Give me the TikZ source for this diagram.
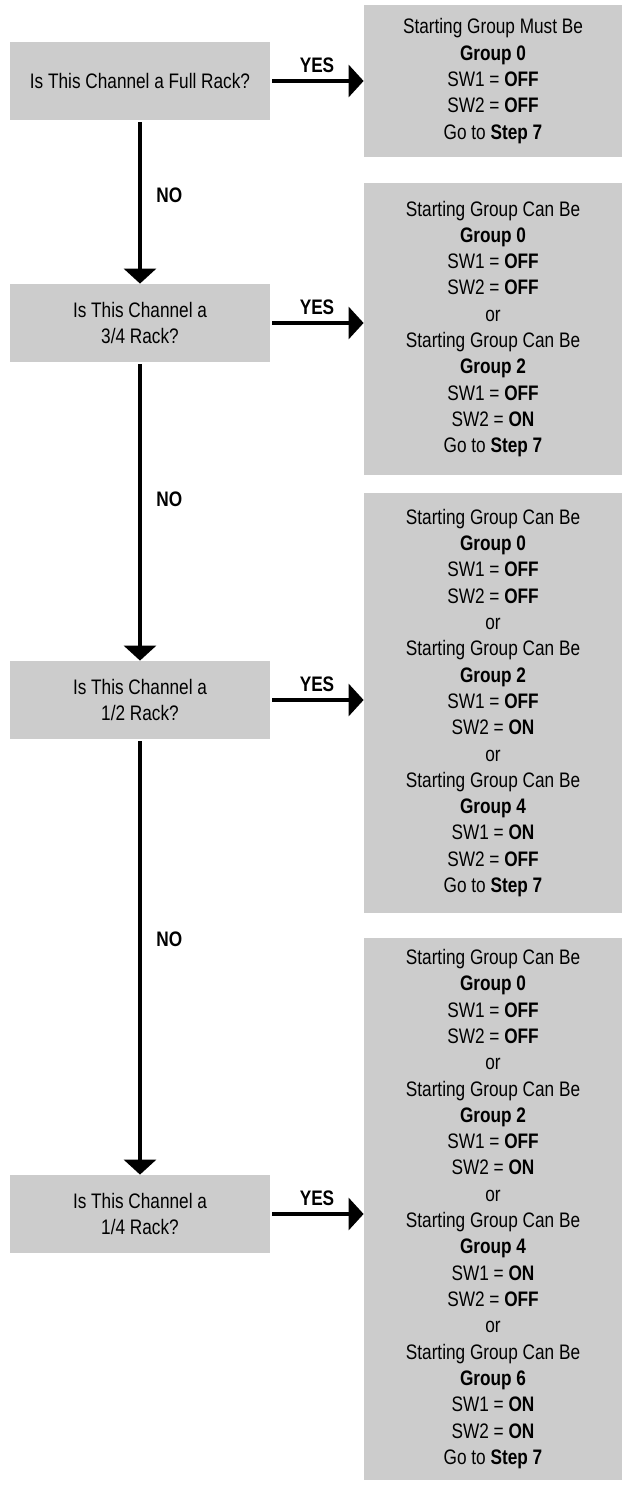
\documentclass[tikz,border=0pt]{standalone}
\usepackage{fontspec}
\setmainfont[FakeStretch=0.82]{Liberation Sans}
\usetikzlibrary{arrows.meta}

\begin{document}
\begin{tikzpicture}[x=0.5pt, y=-0.5pt,
        every node/.style={font=\fontsize{10.5}{13.15}\selectfont},
        question/.style={fill=black!20, minimum width=130pt, minimum height=39pt, align=center, inner sep=0pt},
        answer/.style={fill=black!20, minimum width=129pt, align=center, inner sep=0pt},
        lbl/.style={font=\fontsize{10.5}{13.15}\selectfont\bfseries},
        arr/.style={line width=1.65pt, -{Triangle[length=7.5pt, width=16pt]}, shorten <=1pt}]
            \useasboundingbox (0,0) rectangle (625,1486);

            \node[question] (q1) at (140,81) {Is This Channel a Full Rack?};
            \node[question] (q2) at (140,323) {Is This Channel a\\3/4 Rack?};
            \node[question] (q3) at (140,700) {Is This Channel a\\1/2 Rack?};
            \node[question] (q4) at (140,1214) {Is This Channel a\\1/4 Rack?};

            \node[answer, minimum height=76pt] (a1) at (493,81) {Starting Group Must Be\\\textbf{Group 0}\\SW1 = \textbf{OFF}\\SW2 = \textbf{OFF}\\Go to \textbf{Step 7}};
            \node[answer, minimum height=146pt] (a2) at (493,329) {Starting Group Can Be\\\textbf{Group 0}\\SW1 = \textbf{OFF}\\SW2 = \textbf{OFF}\\or\\
                Starting Group Can Be\\\textbf{Group 2}\\SW1 = \textbf{OFF}\\SW2 = \textbf{ON}\\Go to \textbf{Step 7}};
            \node[answer, minimum height=210pt] (a3) at (493,703) {Starting Group Can Be\\\textbf{Group 0}\\SW1 = \textbf{OFF}\\SW2 = \textbf{OFF}\\or\\
                Starting Group Can Be\\\textbf{Group 2}\\SW1 = \textbf{OFF}\\SW2 = \textbf{ON}\\or\\
                Starting Group Can Be\\\textbf{Group 4}\\SW1 = \textbf{ON}\\SW2 = \textbf{OFF}\\Go to \textbf{Step 7}};
            \node[answer, minimum height=271pt] (a4) at (493,1209) {Starting Group Can Be\\\textbf{Group 0}\\SW1 = \textbf{OFF}\\SW2 = \textbf{OFF}\\or\\
                Starting Group Can Be\\\textbf{Group 2}\\SW1 = \textbf{OFF}\\SW2 = \textbf{ON}\\or\\
                Starting Group Can Be\\\textbf{Group 4}\\SW1 = \textbf{ON}\\SW2 = \textbf{OFF}\\or\\
                Starting Group Can Be\\\textbf{Group 6}\\SW1 = \textbf{ON}\\SW2 = \textbf{ON}\\Go to \textbf{Step 7}};

            \foreach \n in {1,...,4} {
                    \draw[arr] (q\n.east) -- node[lbl, above] {YES} (a\n.west |- q\n.east);
                }
            \foreach \a/\b in {q1/q2, q2/q3, q3/q4} {
                    \draw[arr] (\a) -- node[lbl, right=4pt, pos=.46] {NO} (\b);
                }
        \end{tikzpicture}
\end{document}
